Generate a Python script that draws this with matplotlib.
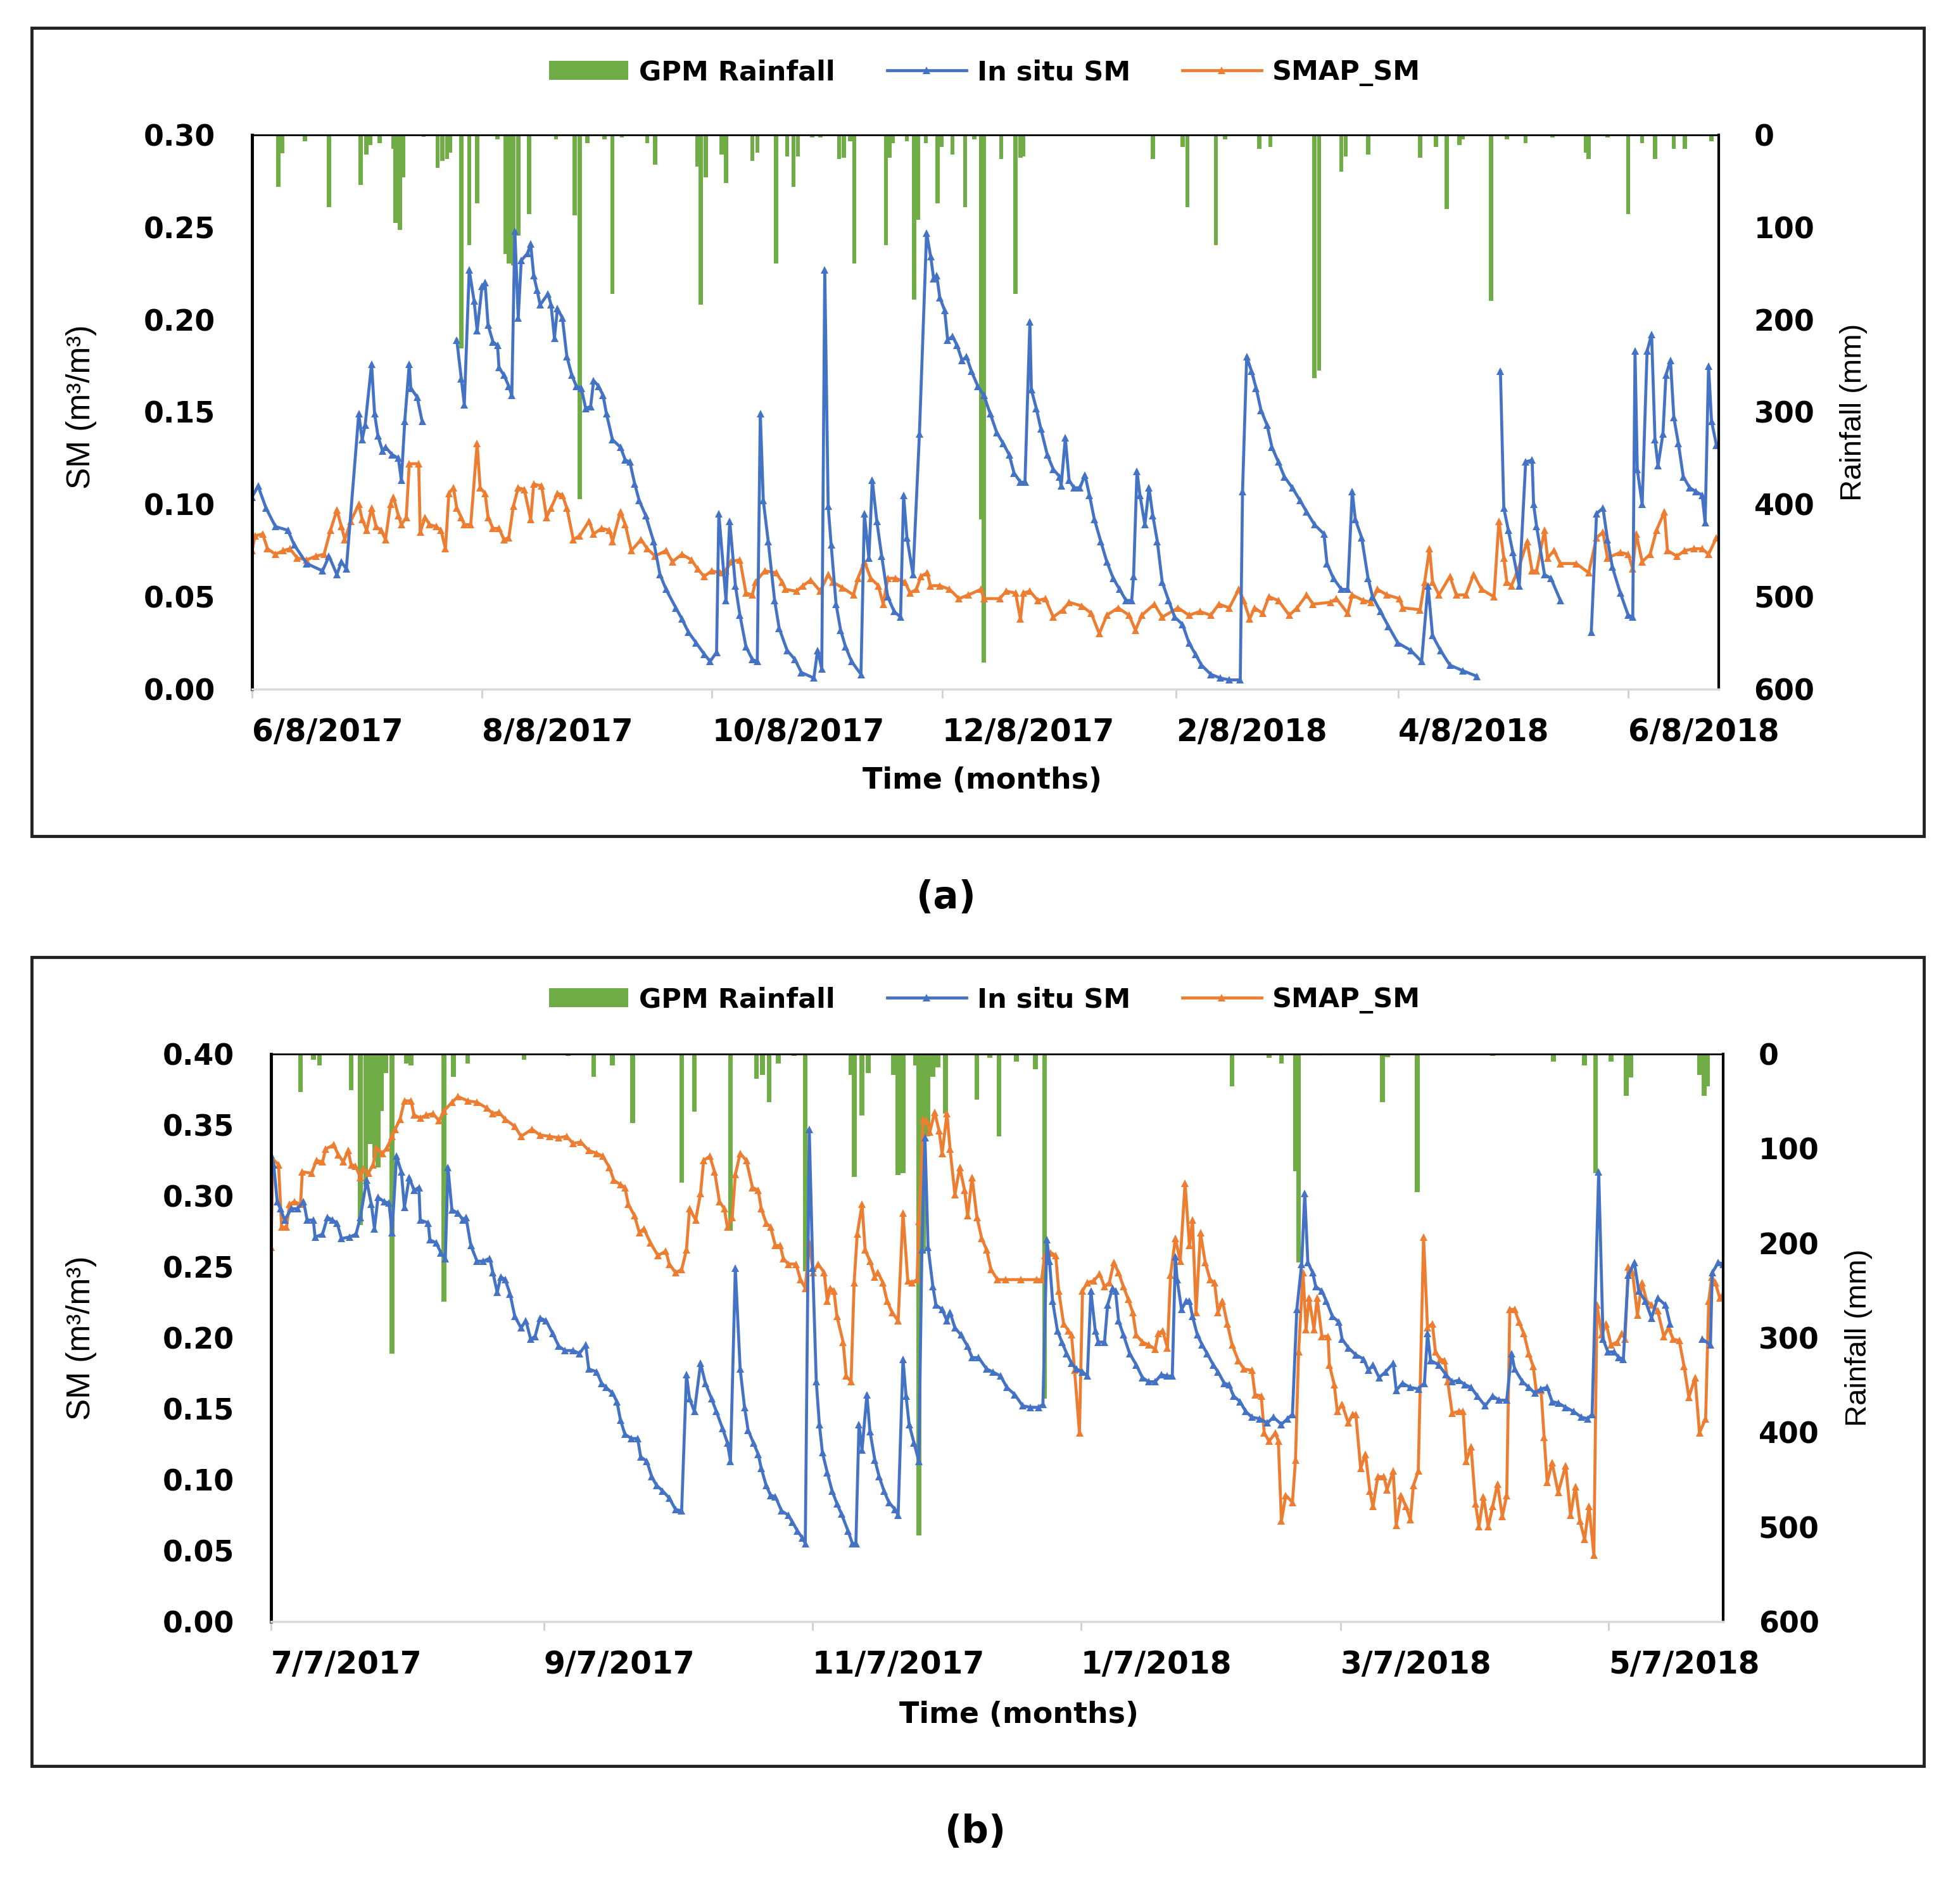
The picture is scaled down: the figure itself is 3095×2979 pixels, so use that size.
import matplotlib
matplotlib.use("Agg")
import matplotlib.pyplot as plt
import numpy as np
from matplotlib.patches import Rectangle, Patch
from matplotlib.lines import Line2D

BLUE = "#4472C4"
ORANGE = "#ED7D31"
GREEN = "#70AD47"

# ---------------- panel (a): day 0 = 6/8/2017 ----------------
a_tick_days = [0, 61, 122, 183, 245, 304, 365]
a_tick_labels = ["6/8/2017", "8/8/2017", "10/8/2017", "12/8/2017", "2/8/2018", "4/8/2018", "6/8/2018"]

a_insitu = [
    (0, .104), (1.6, .110), (3.7, .098), (6.2, .088), (9.5, .086), (11.2, .078), (14.5, .068), (18.7, .064),
    (20.4, .072), (22.5, .062), (23.7, .069), (25, .065), (28.3, .149), (29.2, .135), (30, .143), (31.7, .176),
    (32.5, .149), (33.4, .137), (34.6, .129), (35.4, .131), (37.1, .127), (38.8, .125), (39.6, .113), (40.5, .145),
    (41.7, .176), (42.1, .163), (43.8, .158), (45.1, .145), (50, None),
    (54.3, .189), (55.5, .168), (56.3, .154), (57.6, .227), (58.9, .210), (59.7, .194), (61, .218), (61.8, .220),
    (62.6, .197), (63.9, .188), (65.1, .186), (65.5, .174), (66.8, .170), (68.1, .164), (68.9, .159), (69.7, .248),
    (70.6, .201), (71.4, .232), (73.1, .236), (73.9, .241), (74.7, .224), (75.6, .216), (76.4, .208), (78.5, .214),
    (79.3, .208), (80.2, .190), (81, .206), (82.3, .201), (83.5, .180), (84.8, .170), (86, .164), (87.3, .163),
    (88.5, .152), (89.8, .153), (90.6, .167), (91.9, .164), (93.1, .159), (94, .149), (95.6, .135), (97.7, .131),
    (99, .124), (100.2, .123), (101.5, .111), (102.7, .102), (104.4, .094), (106.5, .080), (108.2, .062),
    (109.8, .054), (112.4, .044), (114, .038), (115.7, .031), (117.8, .025), (119.9, .019), (121.5, .015),
    (123.2, .020), (123.8, .095), (125.7, .048), (126.7, .091), (128.2, .056), (129.4, .040), (131, .023),
    (132.7, .016), (134, .015), (134.8, .149), (135.6, .102), (136.9, .080), (138.6, .048), (139.8, .033),
    (141.9, .021), (144, .016), (145.7, .009), (149, .006), (150, .021), (151.1, .011), (151.9, .227), (152.8, .099),
    (153.6, .078), (154.9, .046), (156.1, .032), (157.4, .023), (159, .015), (161.5, .008), (162.4, .095),
    (163.6, .071), (164.5, .113), (165.7, .091), (167, .072), (168.6, .050), (170.3, .042), (172, .039),
    (172.8, .105), (173.7, .082), (175.3, .062), (177, .138), (178.9, .247), (180, .234), (180.8, .222),
    (181.6, .224), (182.4, .212), (183.7, .205), (184.5, .189), (185.8, .191), (187, .186), (188.3, .178),
    (189.5, .180), (190.8, .172), (192.5, .164), (194.1, .159), (195.8, .149), (197.5, .139), (199.2, .133),
    (200.8, .127), (202.1, .117), (203.8, .112), (205, .112), (206.3, .199), (206.7, .162), (208, .152),
    (209.2, .141), (210.9, .127), (212.5, .119), (214.2, .115), (214.6, .110), (215.7, .136), (216.7, .113),
    (218, .109), (219.6, .109), (220.9, .116), (222.1, .105), (223.4, .092), (225.1, .080), (226.7, .069),
    (228.4, .060), (230.1, .054), (231.8, .048), (233.3, .048), (233.8, .061), (234.7, .118), (235.5, .105),
    (236.8, .089), (237.9, .109), (238.9, .094), (240.1, .080), (241.4, .058), (243.1, .048), (244.7, .039),
    (246.8, .035), (248.5, .025), (250.2, .019), (251.8, .013), (254.3, .008), (256.8, .006), (259.2, .005),
    (262.1, .005), (262.7, .107), (263.8, .180), (265.1, .172), (266.3, .163), (267.6, .151), (269.2, .143),
    (270.5, .131), (272.2, .123), (273.8, .115), (275.9, .109), (278, .102), (279.7, .096), (281.8, .089),
    (284.3, .084), (285.1, .068), (286.8, .060), (288.9, .054), (290.6, .054), (291.8, .107), (292.6, .092),
    (294.3, .082), (296, .060), (297.2, .050), (299.3, .042), (301.4, .034), (303.9, .025), (307.3, .021),
    (310.2, .015), (311.9, .056), (313.1, .029), (315.2, .021), (317.7, .013), (321.1, .010), (324.8, .007),
    (328, None),
    (331.1, .172), (332, .098), (333.2, .086), (334.4, .074), (336.1, .056), (337.8, .123), (339.5, .124),
    (339.9, .100), (340.7, .088), (342.8, .062), (344.5, .060), (347, .048), (351, None),
    (355.2, .031), (356.6, .095), (358.3, .098), (359.5, .081), (360.8, .066), (362.9, .052), (365, .040),
    (366.2, .039), (366.8, .183), (367.4, .119), (368.7, .100), (370, .183), (371.2, .192), (372.1, .135),
    (372.9, .121), (374.2, .138), (375, .170), (376.2, .178), (377.1, .147), (378.3, .133), (379.6, .115),
    (381.3, .109), (382.9, .107), (384.6, .105), (385.4, .090), (386.3, .175), (387.1, .145), (388.4, .132),
]

a_smap = [
    (0, .075), (0.8, .083), (2.8, .084), (4.1, .076), (6.2, .073), (8.3, .075), (10, .076), (12, .071),
    (14.5, .070), (17, .072), (19.1, .073), (20.8, .086), (22.5, .097), (23.7, .088), (24.6, .081), (26.2, .091),
    (28.3, .100), (29.2, .092), (30.4, .086), (31.7, .098), (32.9, .088), (34.2, .086), (35.4, .081), (36.7, .100),
    (37.5, .104), (38.8, .094), (39.6, .089), (40.9, .093), (41.7, .122), (44.2, .122), (44.6, .085), (45.9, .093),
    (47.1, .089), (48.8, .088), (50.1, .086), (51.3, .076), (52.2, .106), (53.4, .109), (54.3, .098), (55.5, .093),
    (56.3, .089), (58, .089), (59.7, .133), (60.5, .109), (61.8, .106), (62.6, .093), (63.9, .087), (65.5, .087),
    (66.8, .081), (68.1, .082), (69.3, .099), (70.6, .109), (72.2, .108), (73.9, .092), (74.7, .111), (76.8, .110),
    (78.1, .093), (79.3, .098), (81, .106), (82.3, .105), (83.5, .098), (85.2, .081), (86.9, .083), (89.4, .091),
    (90.6, .084), (92.7, .087), (94.8, .086), (95.6, .080), (97.7, .096), (99, .089), (100.6, .075), (103.2, .081),
    (104.8, .076), (106.9, .072), (109.8, .075), (111.5, .069), (114, .073), (116.5, .070), (118.2, .065),
    (119.9, .061), (121.9, .064), (124.1, .063), (125.7, .064), (127, .069), (129.4, .070), (131, .052),
    (132.7, .051), (133.5, .058), (136, .064), (139, .063), (140.6, .058), (141.5, .054), (144.4, .053),
    (146.1, .056), (148.2, .059), (150.7, .053), (152.8, .062), (154, .058), (156.5, .055), (159.5, .051),
    (160.7, .060), (162.4, .069), (164.1, .060), (166.1, .056), (167.4, .046), (168.6, .060), (170.7, .060),
    (173.2, .058), (174.5, .052), (176.2, .054), (177.4, .061), (179.1, .063), (179.9, .056), (182.4, .056),
    (185, .054), (187.5, .049), (190, .051), (193.3, .054), (194.1, .049), (198.3, .049), (200, .053),
    (202.5, .052), (203.8, .038), (204.6, .052), (206.3, .053), (208.4, .048), (210.4, .049), (212.5, .039),
    (215.1, .043), (216.7, .047), (220.1, .045), (222.6, .041), (224.7, .030), (226.7, .040), (229.7, .044),
    (232.6, .040), (234.3, .032), (236, .040), (239.3, .046), (241.4, .039), (245.6, .044), (248.5, .040),
    (251.4, .042), (254.3, .040), (256.4, .046), (259.2, .044), (261.7, .054), (263, .048), (264.6, .038),
    (265.9, .044), (268, .041), (269.7, .050), (272.2, .048), (275.1, .040), (277.2, .044), (279.7, .051),
    (281.4, .046), (286, .047), (287.6, .049), (290.6, .041), (291.8, .051), (294.7, .048), (296.8, .047),
    (298.5, .054), (301, .051), (304.3, .049), (305.2, .044), (309.8, .043), (311, .058), (312.3, .076),
    (313.1, .058), (314.8, .051), (317.7, .061), (319.4, .051), (321.9, .051), (324, .062), (326.1, .054),
    (329.4, .050), (330.7, .091), (332, .071), (332.8, .058), (334, .056), (335.7, .064), (338.2, .080),
    (339.5, .064), (340.7, .064), (342.8, .086), (343.6, .071), (345.3, .075), (347, .068), (351.2, .068),
    (354.5, .063), (356.6, .082), (358.3, .085), (359.5, .071), (362.9, .074), (365, .073), (366.2, .065),
    (367.1, .084), (368.7, .069), (370.8, .073), (372.5, .086), (374.6, .096), (375.4, .075), (377.9, .072),
    (380, .075), (382.5, .076), (384.6, .076), (386.3, .073), (388.4, .082),
]

a_rain = [
    (7, 56), (8, 20), (14, 7), (20.4, 78), (28.8, 54), (30.3, 21), (31.3, 11), (33.8, 9), (37.5, 15), (38, 95),
    (39.2, 103), (40.1, 46), (45.5, 2), (49.2, 36), (50.5, 28), (51.7, 26), (52.6, 19), (55.5, 231), (57.6, 119),
    (59.7, 74), (65.1, 5), (67.2, 129), (68.1, 139), (69.3, 141), (70.6, 109), (73.5, 86), (80.6, 5), (85.6, 87),
    (86.9, 394), (88.9, 9), (93.5, 5), (95.6, 172), (98.1, 3), (104.8, 9), (106.9, 32), (118.2, 34), (119, 184),
    (120.3, 46), (124.5, 21), (125.7, 52), (132.7, 28), (134, 19), (139, 139), (141.9, 23), (143.6, 56),
    (144.8, 23), (148.6, 3), (150.7, 3), (155.7, 26), (157, 25), (158.6, 7), (159.7, 139), (168.1, 119),
    (169.1, 25), (169.9, 9), (173.7, 7), (175.6, 178), (176.6, 92), (178.7, 9), (181.8, 74), (182.9, 13),
    (185.8, 21), (189.1, 78), (191.6, 5), (193.3, 416), (194.1, 571), (198.7, 26), (202.5, 172), (203.8, 25),
    (204.6, 23), (238.9, 26), (246.8, 13), (248.1, 78), (255.6, 119), (258.1, 5), (267.1, 15), (270.1, 13),
    (276.8, 1), (281.8, 263), (283, 255), (288.9, 40), (290.1, 23), (296, 21), (309.8, 25), (314, 13),
    (316.9, 80), (320.2, 11), (321.1, 5), (328.6, 180), (332.8, 5), (337.8, 9), (344.9, 3), (353.7, 19),
    (354.5, 26), (359.5, 3), (365, 86), (368.7, 9), (372.1, 26), (377.1, 15), (380, 15), (387.1, 7),
]

# ---------------- panel (b): day 0 = 7/7/2017 ----------------
b_tick_days = [0, 62, 123, 184, 243, 304]
b_tick_labels = ["7/7/2017", "9/7/2017", "11/7/2017", "1/7/2018", "3/7/2018", "5/7/2018"]

b_insitu = [
    (0, .329), (0.6, .322), (1.4, .296), (2.1, .291), (3.1, .283), (4.6, .291), (6, .291), (7.4, .296), (8.2, .283),
    (9.6, .283), (10, .271), (11.7, .273), (12.8, .285), (13.9, .283), (15, .281), (16, .270), (17.8, .271),
    (19.3, .273), (20.3, .285), (21.7, .311), (22.8, .294), (23.5, .277), (24.3, .299), (25.7, .296), (26.8, .295),
    (27.5, .274), (28.5, .328), (29.6, .317), (30.3, .292), (31.4, .313), (32.5, .304), (33.6, .306), (33.9, .283),
    (35.7, .281), (36.1, .269), (37.5, .267), (38.6, .260), (39.6, .256), (40.2, .320), (41.1, .290), (42.5, .288),
    (43.6, .283), (44.3, .285), (45.4, .265), (46.8, .254), (48.2, .254), (49.7, .256), (50.4, .246), (51.4, .232),
    (52.2, .243), (53.2, .241), (54.3, .231), (55.4, .215), (56.8, .207), (57.9, .212), (59, .199), (60, .201),
    (61.1, .214), (62.5, .212), (64, .203), (65.4, .194), (66.8, .191), (68.6, .191), (70.1, .189), (71.5, .195),
    (72.2, .178), (74, .176), (75.1, .168), (76.1, .165), (77.6, .161), (78.6, .155), (79.4, .142), (80.4, .132),
    (81.9, .129), (83.3, .129), (84, .116), (85.4, .113), (86.5, .102), (87.6, .096), (89, .092), (90.5, .087),
    (91.9, .079), (93.3, .078), (94.4, .174), (95.1, .157), (96.2, .148), (97.6, .182), (98.7, .168), (100.1, .157),
    (101.2, .148), (102.6, .136), (103.7, .126), (104.4, .113), (105.5, .249), (106.6, .178), (107.6, .151),
    (108.4, .135), (109.6, .126), (110.7, .118), (111.4, .108), (112.5, .096), (113.5, .089), (114.6, .088),
    (116, .078), (117.5, .075), (118.5, .070), (119.6, .064), (120.7, .059), (121.4, .055), (122.3, .347),
    (123.1, .249), (123.9, .169), (124.6, .139), (125.3, .119), (126.4, .105), (127.5, .092), (128.6, .083),
    (129.6, .076), (131.1, .064), (132.1, .055), (132.9, .055), (133.6, .139), (134.3, .121), (135.4, .160),
    (136.1, .134), (137.2, .114), (138.2, .102), (139.3, .092), (140.4, .084), (141.8, .079), (142.5, .075),
    (143.6, .185), (144.3, .159), (145, .139), (146.1, .126), (147.2, .113), (147.9, .262), (148.6, .341),
    (149.3, .264), (150.4, .236), (151.1, .223), (152.5, .220), (153.6, .212), (154.3, .218), (155.4, .207),
    (156.8, .202), (158.3, .194), (159.3, .186), (160.8, .186), (162.6, .178), (164, .176), (165.8, .173),
    (167.2, .165), (169, .160), (170.8, .152), (172.6, .151), (174.4, .151), (175.4, .153), (176.3, .269),
    (176.9, .254), (177.6, .226), (178.7, .205), (179.7, .197), (180.8, .189), (181.9, .182), (183, .178),
    (184.4, .176), (185.5, .173), (186.3, .233), (187.3, .205), (188, .197), (189.4, .197), (190.1, .223),
    (191.2, .235), (191.9, .233), (192.6, .212), (193.7, .202), (195.1, .189), (196.6, .181), (198, .172),
    (199.4, .169), (200.9, .169), (202.3, .174), (203.7, .173), (204.8, .173), (205.5, .257), (205.9, .241),
    (206.9, .220), (208, .226), (208.7, .226), (209.4, .215), (210.5, .202), (211.6, .195), (212.7, .189),
    (214.1, .181), (215.2, .176), (216.6, .168), (217.7, .167), (218.7, .159), (220.2, .155), (221.5, .148),
    (222.9, .144), (224.6, .143), (226.4, .140), (227.8, .144), (229.6, .139), (231, .143), (232.1, .146),
    (233.1, .220), (234.2, .252), (234.9, .302), (235.6, .253), (236.7, .246), (237.4, .236), (238.8, .233),
    (239.8, .226), (241.2, .215), (242.7, .211), (243.4, .199), (244.8, .193), (246.5, .188), (248.3, .185),
    (249.4, .177), (250.4, .181), (251.8, .172), (253.3, .176), (255, .182), (255.7, .163), (257.1, .168),
    (258.9, .165), (260.7, .164), (262.1, .168), (262.8, .203), (263.5, .184), (265.3, .181), (267, .174),
    (268.4, .169), (269.9, .170), (271.3, .167), (272.7, .165), (274.1, .159), (275.9, .152), (277.6, .159),
    (279, .156), (280.8, .156), (281.9, .189), (282.6, .178), (284.4, .169), (285.8, .165), (287.2, .161),
    (288.6, .164), (290, .165), (291.1, .155), (292.5, .154), (294.2, .151), (296, .148), (297.8, .144),
    (299.2, .143), (300.2, .146), (301.7, .317), (302.7, .199), (303.8, .190), (305.2, .190), (306.3, .186),
    (307.3, .185), (308.4, .244), (309.8, .253), (310.8, .233), (312.3, .226), (313.7, .214), (315.1, .228),
    (316.9, .223), (317.9, .210), (321, None),
    (325.3, .199), (327.1, .195), (327.5, .246), (328.9, .253), (330, .252),
]

b_smap = [
    (0, .264), (0.4, .326), (1.7, .322), (2.4, .278), (3.5, .278), (4.2, .294), (5.3, .296), (6.7, .294), (7.1, .317),
    (9.2, .316), (10.3, .325), (11.7, .324), (12.4, .333), (14.2, .336), (15.3, .329), (16.4, .324), (17.5, .332),
    (18.2, .322), (19.2, .321), (20.3, .313), (21, .319), (22.1, .316), (23.2, .322), (23.9, .334), (25.3, .330),
    (26.4, .334), (27.5, .342), (28.2, .347), (29.3, .354), (30.3, .367), (31.8, .367), (32.5, .357), (33.9, .355),
    (35.3, .357), (36.8, .358), (38.2, .353), (39.3, .360), (41.1, .366), (42.5, .370), (44.7, .367), (46.8, .366),
    (49, .362), (50.4, .358), (51.8, .359), (53.2, .354), (55.4, .349), (56.8, .342), (59.3, .347), (61.1, .343),
    (63.3, .342), (65.4, .341), (67.2, .342), (68.6, .337), (70.4, .338), (72.2, .332), (74, .330), (75.4, .328),
    (76.9, .320), (77.9, .311), (79.4, .308), (80.4, .306), (81.2, .294), (82.6, .286), (83.7, .274), (84.7, .277),
    (86.2, .267), (87.9, .258), (89.7, .261), (90.5, .252), (91.9, .246), (93.3, .248), (94.4, .262), (95.1, .291),
    (96.5, .283), (97.6, .302), (98.3, .325), (99.7, .328), (100.8, .317), (101.9, .296), (103, .291), (103.7, .278),
    (104.8, .285), (105.5, .315), (106.6, .330), (108, .325), (109.4, .306), (110.7, .304), (111.4, .291),
    (112.5, .281), (113.5, .278), (114.6, .265), (115.7, .265), (116.4, .256), (117.5, .252), (119.3, .252),
    (120.3, .241), (121.4, .235), (122.3, .267), (123.2, .246), (124.3, .252), (125.7, .246), (126.4, .226),
    (127.1, .235), (127.9, .233), (128.6, .215), (130, .197), (130.7, .173), (131.8, .169), (132.5, .239),
    (133.2, .273), (134.3, .294), (135, .262), (136.1, .254), (137.2, .243), (137.9, .246), (139, .239),
    (140, .226), (141.1, .218), (142.5, .212), (143.6, .288), (144.7, .240), (145.7, .239), (146.8, .241),
    (147.2, .282), (148.2, .354), (149, .353), (149.7, .345), (150.8, .359), (151.8, .346), (152.5, .330),
    (153.6, .358), (154.3, .333), (155.4, .301), (156.5, .320), (157.6, .304), (158.3, .286), (159.3, .313),
    (160.4, .285), (161.5, .270), (162.6, .262), (163.6, .248), (165.1, .241), (166.9, .241), (170.4, .241),
    (174, .241), (175.1, .241), (175.8, .258), (177.2, .260), (178.3, .258), (179, .233), (180.1, .210),
    (181.2, .205), (181.9, .202), (182.6, .177), (183.7, .133), (184.4, .233), (185.5, .239), (186.9, .240),
    (188.3, .245), (189.4, .236), (190.5, .239), (191.5, .253), (192.6, .246), (193.7, .236), (194.8, .227),
    (195.8, .218), (196.6, .202), (198, .197), (199.4, .195), (200.9, .192), (201.6, .203), (202.6, .205),
    (203.7, .193), (204.4, .244), (205.5, .270), (206.6, .254), (207.7, .309), (208.7, .265), (209.4, .283),
    (210.2, .218), (211.2, .274), (212.3, .253), (213.4, .241), (214.4, .239), (215.2, .218), (216.2, .226),
    (217.3, .210), (218.4, .195), (219.8, .184), (221.1, .178), (222.9, .177), (223.6, .160), (225, .159),
    (225.7, .133), (226.8, .127), (228.2, .133), (228.9, .127), (229.6, .071), (230.6, .089), (232.1, .084),
    (232.8, .114), (233.5, .190), (234.5, .246), (235.2, .206), (235.9, .228), (237, .206), (237.7, .228),
    (238.8, .201), (240.2, .201), (240.5, .181), (241.6, .167), (242.3, .148), (243.4, .153), (244.8, .140),
    (245.8, .146), (246.5, .146), (247.6, .108), (248.7, .118), (249.7, .092), (250.4, .081), (251.5, .102),
    (252.9, .102), (253.6, .093), (255, .106), (255.7, .068), (256.8, .089), (257.9, .081), (258.9, .072),
    (259.6, .096), (260.7, .106), (261.9, .271), (262.8, .207), (263.9, .210), (264.6, .190), (265.6, .185),
    (266.7, .184), (267.4, .169), (268.4, .147), (269.9, .148), (270.9, .148), (271.6, .113), (272.7, .123),
    (273.7, .083), (274.5, .067), (275.5, .088), (276.6, .067), (277.6, .081), (278.7, .097), (279.8, .074),
    (280.8, .089), (281.5, .220), (282.6, .220), (283.6, .211), (284.7, .203), (285.8, .189), (286.8, .180),
    (287.5, .163), (288.6, .163), (289.3, .130), (290, .098), (291.1, .112), (292.5, .091), (294.2, .110),
    (295.3, .075), (296.4, .095), (297.4, .071), (298.5, .058), (299.5, .081), (300.6, .047), (301.3, .223),
    (302.4, .202), (303.4, .210), (304.5, .195), (305.9, .197), (307, .203), (307.7, .199), (308.4, .250),
    (309.4, .246), (310.5, .216), (311.5, .239), (312.6, .226), (313.7, .223), (315.1, .219), (316.5, .201),
    (317.6, .207), (318.6, .199), (320, .198), (321.1, .180), (322.2, .158), (323.6, .172), (324.6, .133),
    (326, .143), (326.7, .226), (327.4, .243), (328.2, .239), (329.2, .228), (330, .231),
]

b_rain = [
    (6.7, 40), (9.6, 6), (11, 12), (18.2, 38), (20.3, 181), (21.5, 140), (22.5, 95), (23.5, 110), (24.3, 120),
    (25, 60), (26, 20), (27.5, 317), (30.7, 10), (31.8, 12), (39.3, 262), (41.4, 24), (44.7, 10), (57.5, 6),
    (67.5, 2), (73.3, 24), (77.6, 12), (82.2, 73), (93.3, 136), (96.2, 61), (104.4, 187), (110.3, 26),
    (111.7, 22), (113.2, 51), (115.3, 10), (118.9, 2), (121.4, 230), (131.8, 22), (132.5, 130), (134.3, 65),
    (135.7, 20), (141.4, 22), (142.5, 128), (143.6, 126), (146.5, 12), (147.2, 509), (148.2, 211), (149.3, 87),
    (150.4, 24), (151.5, 14), (153.3, 63), (160.4, 48), (163.3, 4), (165.4, 87), (169.4, 8), (173.7, 16),
    (175.8, 364), (218.4, 34), (226.8, 4), (229.6, 10), (232.8, 124), (233.5, 220), (238.4, 1), (252.6, 51),
    (253.7, 3), (260.5, 146), (277.6, 2), (291.4, 8), (298.5, 12), (301, 126), (304.5, 8), (308, 44), (309, 25),
    (324.6, 22), (325.7, 44), (326.4, 34),
]

XTICK_FS = 35
YTICK_FS = 33
LW = 3.4
MS = 9


def draw_panel(fig, box, rect, xmax, ymax, tick_days, tick_labels, insitu, smap, rain,
               legend_y, xlabel_xy, ylabel_xy, rlabel_xy, tag, tag_xy):
    # outer frame around the panel
    fig.patches.append(Rectangle((box[0], box[1]), box[2], box[3], transform=fig.transFigure,
                                 fill=False, lw=3.5, ec="#222222"))

    ax = fig.add_axes(rect)
    ax2 = ax.twinx()
    ax.set_zorder(ax2.get_zorder() + 1)
    ax.patch.set_visible(False)

    r = np.array(rain, dtype=float)
    ax2.bar(r[:, 0], r[:, 1], width=1.1, color=GREEN, linewidth=0, align="center")
    ax2.set_ylim(600, 0)
    ax2.set_yticks(np.arange(0, 601, 100))
    ax2.tick_params(axis="y", length=0, pad=40, labelsize=YTICK_FS)
    for t in ax2.get_yticklabels():
        t.set_fontweight("bold")
    for s in ax2.spines.values():
        s.set_visible(False)

    ins = np.array(insitu, dtype=float)
    sm = np.array(smap, dtype=float)
    ax.plot(sm[:, 0], sm[:, 1], color=ORANGE, lw=LW, marker="^", ms=MS, mew=0)
    ax.plot(ins[:, 0], ins[:, 1], color=BLUE, lw=LW, marker="^", ms=MS, mew=0)

    ax.set_xlim(0, xmax)
    ax.set_ylim(0, ymax)
    ax.set_yticks(np.arange(0, ymax + 0.001, 0.05))
    ax.set_yticklabels([f"{v:.2f}" for v in np.arange(0, ymax + 0.001, 0.05)], fontweight="bold")
    ax.tick_params(axis="y", length=0, pad=42, labelsize=YTICK_FS)
    ax.set_xticks(tick_days)
    ax.set_xticklabels(tick_labels, fontweight="bold", ha="left")
    ax.tick_params(axis="x", length=10, width=2, color="#d0d0d0", pad=22, labelsize=XTICK_FS)

    ax.spines["left"].set_linewidth(3.5)
    ax.spines["right"].set_linewidth(3)
    ax.spines["top"].set_linewidth(2)
    ax.spines["bottom"].set_color("#d9d9d9")
    ax.spines["bottom"].set_linewidth(2.5)

    handles = [
        Patch(facecolor=GREEN, edgecolor="none"),
        Line2D([], [], color=BLUE, lw=LW, marker="^", ms=MS, mew=0),
        Line2D([], [], color=ORANGE, lw=LW, marker="^", ms=MS, mew=0),
    ]
    fig.legend(handles, ["GPM Rainfall", "In situ SM", "SMAP_SM"], loc="center",
               bbox_to_anchor=(0.5025, legend_y), ncol=3, frameon=False,
               prop={"weight": "bold", "size": 31}, handlelength=2.9, handleheight=0.7,
               handletextpad=0.4, columnspacing=1.9)

    fig.text(xlabel_xy[0], xlabel_xy[1], "Time (months)", ha="center", va="center",
             fontsize=33, fontweight="bold")
    fig.text(ylabel_xy[0], ylabel_xy[1], "SM (m³/m³)", ha="center", va="center", rotation=90,
             fontsize=37, family=["Liberation Sans", "DejaVu Sans"])
    fig.text(rlabel_xy[0], rlabel_xy[1], "Rainfall (mm)", ha="center", va="center", rotation=90,
             fontsize=34, family=["Liberation Sans", "DejaVu Sans"])
    fig.text(tag_xy[0], tag_xy[1], tag, ha="center", va="center", fontsize=43, fontweight="bold")


fig = plt.figure(figsize=(30.95, 29.79), dpi=100)

draw_panel(fig, box=(0.0162, 0.5569, 0.9654, 0.4283), rect=(0.1286, 0.6348, 0.7483, 0.2937),
           xmax=389, ymax=0.30, tick_days=a_tick_days, tick_labels=a_tick_labels,
           insitu=a_insitu, smap=a_smap, rain=a_rain, legend_y=0.9614,
           xlabel_xy=(0.5011, 0.5864), ylabel_xy=(0.0414, 0.7845), rlabel_xy=(0.9457, 0.7815),
           tag="(a)", tag_xy=(0.4827, 0.5243))

draw_panel(fig, box=(0.0162, 0.0641, 0.9654, 0.4287), rect=(0.1383, 0.1407, 0.7409, 0.3007),
           xmax=330, ymax=0.40, tick_days=b_tick_days, tick_labels=b_tick_labels,
           insitu=b_insitu, smap=b_smap, rain=b_rain, legend_y=0.4700,
           xlabel_xy=(0.5199, 0.0910), ylabel_xy=(0.0414, 0.2910), rlabel_xy=(0.9483, 0.2910),
           tag="(b)", tag_xy=(0.4976, 0.0292))

fig.savefig("out.png", dpi=100)
